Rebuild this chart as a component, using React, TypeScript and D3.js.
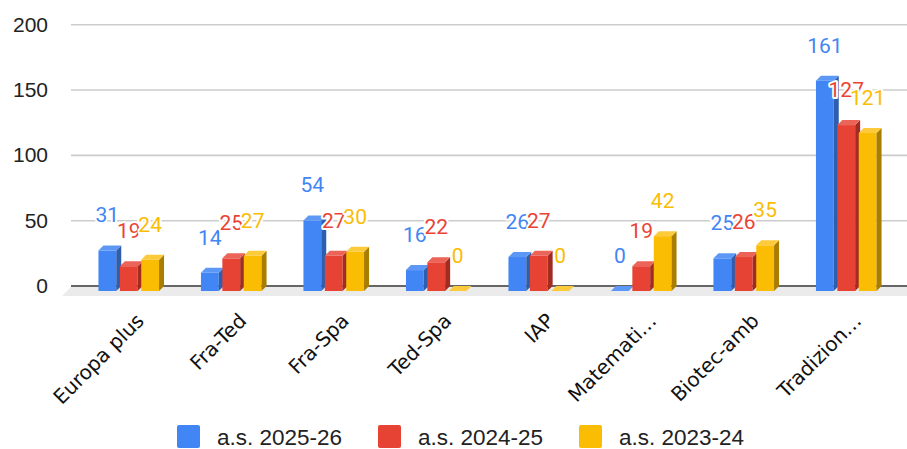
import React from "react";
import * as d3 from "d3";

const categories = ["Europa plus", "Fra-Ted", "Fra-Spa", "Ted-Spa", "IAP", "Matemati…", "Biotec-amb", "Tradizion…"];
const seriesNames = ["a.s. 2025-26", "a.s. 2024-25", "a.s. 2023-24"];
const s2025 = [31, 14, 54, 16, 26, 0, 25, 161];
const s2024 = [19, 25, 27, 22, 27, 19, 26, 127];
const s2023 = [24, 27, 30, 0, 0, 42, 35, 121];
const yTicks = [0, 50, 100, 150, 200];

const seriesValues = [s2025, s2024, s2023];
const colors = [
  { front: "#4285F4", side: "#2E5EAE", top: "#5E98F6", text: "#4285F4" },
  { front: "#E64335", side: "#A22C22", top: "#EC6358", text: "#EA4335" },
  { front: "#FBBC04", side: "#A87D00", top: "#FCCA3A", text: "#FBBC04" },
];

const W = 907, H = 449;
const left = 71, right = 907;
const D = 5; // 3D depth

export default function App() {
  const y = d3.scaleLinear().domain([0, 200]).range([286, 24.7]);
  const x = d3.scaleBand<string>().domain(categories).range([80, 900]);
  const barW = 17.8, pitch = 21.4;
  const groupW = pitch * 2 + barW + D;
  const base = y(0);

  const bars: React.ReactNode[] = [];
  const labels: React.ReactNode[] = [];
  seriesValues.forEach((vals, si) => {
    const c = colors[si];
    vals.forEach((v, ci) => {
      const cx = (x(categories[ci]) as number) + x.bandwidth() / 2;
      const fx = cx - groupW / 2 + si * pitch;
      const yb = y(v);
      const ft = yb + D;
      const fb = base + D;
      bars.push(
        <g key={`b${si}-${ci}`}>
          {v > 0 && <rect x={fx} y={ft} width={barW} height={fb - ft} fill={c.front} />}
          {v > 0 && (
            <polygon
              points={`${fx + barW},${ft} ${fx + barW + D},${yb} ${fx + barW + D},${base} ${fx + barW},${fb}`}
              fill={c.side}
            />
          )}
          <polygon
            points={`${fx},${ft} ${fx + D},${yb} ${fx + barW + D},${yb} ${fx + barW},${ft}`}
            fill={c.top}
          />
        </g>
      );
      labels.push(
        <text
          key={`l${si}-${ci}`}
          x={fx + barW / 2}
          y={yb - 23}
          textAnchor="middle"
          fontFamily="Roboto, sans-serif"
          fontSize={21}
          fill={c.text}
          stroke="#fff"
          strokeWidth={4}
          strokeLinejoin="round"
          paintOrder="stroke"
        >
          {v}
        </text>
      );
    });
  });

  return (
    <svg width={W} height={H} style={{ position: "absolute", left: 0, top: 0, background: "#fff" }}>
      {yTicks.filter((t) => t > 0).map((t) => (
        <line key={t} x1={left} x2={right} y1={y(t)} y2={y(t)} stroke="#cccccc" strokeWidth={1.6} />
      ))}
      <polygon points={`${left},${base + 1} ${right},${base + 1} ${right},${base + 10} ${left - 9},${base + 10}`} fill="#ebebeb" />
      <line x1={left} x2={right} y1={base} y2={base} stroke="#333" strokeWidth={1.6} />
      {yTicks.map((t) => (
        <text key={t} x={48} y={y(t) + 7} textAnchor="end" fontFamily="'Liberation Sans', Arial, sans-serif" fontSize={21} fill="#222">
          {t}
        </text>
      ))}
      {bars}
      {labels}
      {categories.map((cat) => {
        const cx = (x(cat) as number) + x.bandwidth() / 2;
        const ax = cx + 14, ay = 322;
        return (
          <text
            key={cat}
            x={ax}
            y={ay}
            transform={`rotate(-45 ${ax} ${ay})`}
            textAnchor="end"
            fontFamily="'DejaVu Sans', sans-serif"
            fontSize={20}
            fill="#111"
          >
            {cat}
          </text>
        );
      })}
      {seriesNames.map((n, i) => {
        const lx = 177 + i * 201;
        return (
          <g key={n}>
            <rect x={lx} y={425} width={23} height={23} rx={2} fill={colors[i].front} />
            <text x={lx + 40} y={445} fontFamily="'Liberation Sans', Arial, sans-serif" fontSize={22.5} fill="#222">
              {n}
            </text>
          </g>
        );
      })}
    </svg>
  );
}
